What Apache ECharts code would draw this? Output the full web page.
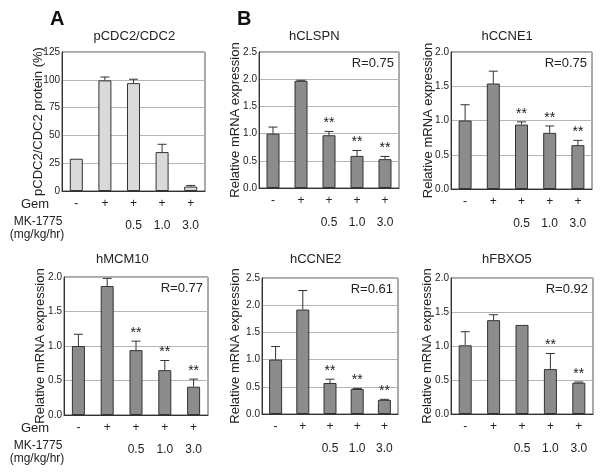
<!DOCTYPE html>
<html><head><meta charset="utf-8">
<script src="https://cdn.jsdelivr.net/npm/echarts@6/dist/echarts.min.js"></script>
<style>html,body{margin:0;padding:0;background:#fff}#c{width:600px;height:476px}</style>
</head><body><div id="c"></div>
<script>
// ---- data ----
const gemLabels = ['-', '+', '+', '+', '+'];
const doseLabels = ['', '', '0.5', '1.0', '3.0'];
const panelTitles = ['pCDC2/CDC2', 'hCLSPN', 'hCCNE1', 'hMCM10', 'hCCNE2', 'hFBXO5'];
const pcdc2 = [29, 99.5, 97, 35, 4];
const pcdc2Sd = [0, 3, 3.5, 7, 1];
const clspn = [1.0, 1.97, 0.97, 0.59, 0.53];
const clspnSd = [0.12, 0.01, 0.07, 0.10, 0.05];
const ccne1 = [1.0, 1.54, 0.94, 0.82, 0.64];
const ccne1Sd = [0.23, 0.18, 0.04, 0.10, 0.07];
const mcm10 = [1.0, 1.87, 0.94, 0.65, 0.41];
const mcm10Sd = [0.17, 0.11, 0.13, 0.14, 0.11];
const ccne2 = [1.0, 1.92, 0.57, 0.46, 0.26];
const ccne2Sd = [0.24, 0.35, 0.07, 0.01, 0.01];
const fbxo5 = [1.01, 1.38, 1.31, 0.66, 0.46];
const fbxo5Sd = [0.20, 0.08, 0, 0.23, 0.01];
const starsA = [0, 0, 0, 0, 0];
const starsMost = [0, 0, 1, 1, 1];
const starsFbxo5 = [0, 0, 0, 1, 1];
const rValues = [null, 'R=0.75', 'R=0.75', 'R=0.77', 'R=0.61', 'R=0.92'];
const yMax = [125, 2.5, 2.0, 2.0, 2.5, 2.0];
const yStep = [25, 0.5, 0.5, 0.5, 0.5, 0.5];
const yNames = ['pCDC2/CDC2 protein (%)', 'Relative mRNA expression', 'Relative mRNA expression',
                'Relative mRNA expression', 'Relative mRNA expression', 'Relative mRNA expression'];

const values = [pcdc2, clspn, ccne1, mcm10, ccne2, fbxo5];
const sds = [pcdc2Sd, clspnSd, ccne1Sd, mcm10Sd, ccne2Sd, fbxo5Sd];
const stars = [starsA, starsMost, starsMost, starsMost, starsMost, starsFbxo5];

// ---- layout ----
const boxes = [
  {l: 62, r: 205, t: 52, b: 191, ng: 17},
  {l: 259, r: 399, t: 52, b: 188, ng: 17},
  {l: 451, r: 592, t: 52, b: 189, ng: 16},
  {l: 64, r: 208, t: 277, b: 415, ng: 17},
  {l: 262, r: 398, t: 278, b: 414, ng: 20},
  {l: 451, r: 593, t: 278, b: 414, ng: 17}
];
const FONT = 'Liberation Sans, Arial, sans-serif';
const barColors = ['#dadada', '#8c8c8c', '#8c8c8c', '#8c8c8c', '#8c8c8c', '#8c8c8c'];

const grid = [], xAxis = [], yAxis = [], series = [], graphic = [];
boxes.forEach((b, i) => {
  grid.push({left: b.l, top: b.t, width: b.r - b.l, height: b.b - b.t, show: true,
             borderColor: '#555', borderWidth: 1, containLabel: false});
  xAxis.push({type: 'category', gridIndex: i, data: gemLabels,
    axisLine: {lineStyle: {color: '#333', width: 1}}, axisTick: {show: false},
    axisLabel: {color: '#222', fontFamily: FONT, fontSize: 12, margin: 7, interval: 0}});
  xAxis.push({type: 'category', gridIndex: i, data: doseLabels, position: 'bottom', offset: 22,
    axisLine: {show: false}, axisTick: {show: false},
    axisLabel: {color: '#222', fontFamily: FONT, fontSize: 12, margin: 7, interval: 0}});
  yAxis.push({type: 'value', gridIndex: i, min: 0, max: yMax[i], interval: yStep[i],
    name: yNames[i], nameLocation: 'middle', nameGap: b.ng, nameMoveOverlap: false,
    nameTextStyle: {color: '#222', fontFamily: FONT, fontSize: 13},
    axisLine: {show: true, lineStyle: {color: '#333', width: 1}}, axisTick: {show: false},
    axisLabel: {color: '#222', fontFamily: FONT, fontSize: 10, margin: 2,
      formatter: v => i === 0 ? String(v) : v.toFixed(1)},
    splitLine: {show: true, lineStyle: {color: '#b5b5b5', width: 1}}});
  series.push({type: 'bar', xAxisIndex: 2 * i, yAxisIndex: i, barWidth: 13,
    data: values[i],
    itemStyle: {color: barColors[i], borderColor: '#333', borderWidth: 1},
    silent: true, animation: false});
  const errData = values[i].map((v, k) => [k, v, v + sds[i][k], stars[i][k]]);
  series.push({type: 'custom', xAxisIndex: 2 * i, yAxisIndex: i, data: errData, animation: false,
    silent: true,
    renderItem: (params, api) => {
      const x = api.value(0), v = api.value(1), e = api.value(2), s = api.value(3);
      const p0 = api.coord([x, v]);
      const p1 = api.coord([x, e]);
      const ch = [];
      if (e > v) {
        ch.push({type: 'line', shape: {x1: p0[0], y1: p0[1], x2: p1[0], y2: p1[1]},
          style: {stroke: '#333', lineWidth: 1}});
        ch.push({type: 'line', shape: {x1: p1[0] - 4.5, y1: p1[1], x2: p1[0] + 4.5, y2: p1[1]},
          style: {stroke: '#333', lineWidth: 1}});
      }
      if (s) {
        ch.push({type: 'text', x: p1[0], y: p1[1] - 1,
          style: {text: '**', fill: '#222', font: '14px ' + FONT, textAlign: 'center',
            textVerticalAlign: 'bottom'}});
      }
      return {type: 'group', children: ch};
    }});
  // titles
  graphic.push({type: 'text', left: (b.l + b.r) / 2 - 40, top: (i < 3 ? 30 : 253),
    style: {text: panelTitles[i], fill: '#222', font: '13px ' + FONT, width: 80, align: 'center'}});
  if (rValues[i]) {
    graphic.push({type: 'text', x: b.r - 5, y: b.t + 5,
      style: {text: rValues[i], fill: '#222', font: '13px ' + FONT, textAlign: 'right',
        textVerticalAlign: 'top'}});
  }
});

graphic.push({type: 'text', x: 50, y: 9, style: {text: 'A', fill: '#111', font: 'bold 20px ' + FONT}});
graphic.push({type: 'text', x: 237, y: 9, style: {text: 'B', fill: '#111', font: 'bold 20px ' + FONT}});
[[204, 222, 235], [428, 446, 459]].forEach(r => {
  graphic.push({type: 'text', x: 35, y: r[0], style: {text: 'Gem', fill: '#222', font: '13px ' + FONT,
    textAlign: 'center', textVerticalAlign: 'middle'}});
  graphic.push({type: 'text', x: 38, y: r[1], style: {text: 'MK-1775', fill: '#222', font: '12px ' + FONT,
    textAlign: 'center', textVerticalAlign: 'middle'}});
  graphic.push({type: 'text', x: 37, y: r[2], style: {text: '(mg/kg/hr)', fill: '#222', font: '12px ' + FONT,
    textAlign: 'center', textVerticalAlign: 'middle'}});
});

const chart = echarts.init(document.getElementById('c'), null, {renderer: 'canvas'});
chart.setOption({animation: false, backgroundColor: '#fff', grid, xAxis, yAxis, series, graphic});
</script></body></html>
